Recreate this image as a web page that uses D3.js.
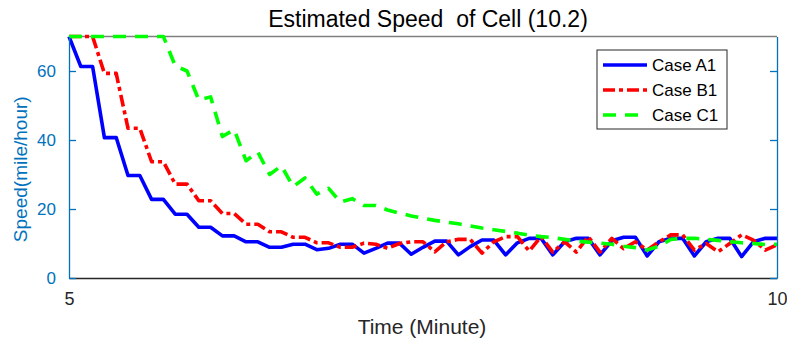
<!DOCTYPE html>
<html>
<head>
<meta charset="utf-8">
<script src="https://cdn.jsdelivr.net/npm/d3@7"></script>
<style>
  body { margin: 0; background: #fff; }
  svg { display: block; font-family: "Liberation Sans", Arial, sans-serif; }
</style>
</head>
<body>
<div id="chart"></div>
<script>
// sampled every 5 seconds between minute 5 and minute 10
const startMin = 5
const stepMin = 5 / 60
const caseA1 = [70, 61.3, 61.3, 40.7, 40.7, 29.7, 29.7, 22.8, 22.8, 18.5, 18.5, 14.7, 14.7, 12.2, 12.2, 10.5, 10.5, 8.9, 8.9, 9.8,
  9.8, 8.2, 8.6, 9.8, 9.8, 7.2, 8.6, 10.1, 10.1, 6.9, 8.9, 10.7, 10.7, 6.7, 9.1, 11, 11, 6.7, 10.2, 11.5,
  11.5, 6.7, 10.5, 11.5, 11.5, 6.7, 10.8, 11.8, 11.8, 6.4, 10.5, 11.5, 11.5, 6.4, 10.5, 11.5, 11.5, 6.2, 10.5, 11.5, 11.5]
const caseB1 = [70, 70, 70, 59.3, 59.3, 43.4, 43.4, 33.7, 33.7, 27.2, 27.2, 22.4, 22.4, 18.7, 18.7, 15.6, 15.6, 13.4, 13.4, 11.8,
  11.8, 10.2, 10.2, 8.9, 8.9, 10.1, 9.8, 8.6, 10, 10.5, 10.5, 7.6, 10.5, 11.2, 11.2, 7.2, 10.5, 12, 12, 7.8,
  12, 7.5, 10.5, 7.5, 12, 7.5, 11.5, 8.5, 10.5, 8.1, 10.5, 12.5, 12.5, 8.1, 10, 7.6, 10, 12.5, 11, 8.1, 9.6]
const caseC1 = [70, 70, 70, 70, 70, 70, 70, 70, 70, 61.5, 60, 51.6, 52.5, 41, 43, 34, 36.5, 30, 32.5, 26.5,
  29, 24.3, 26, 22, 23, 21, 21, 19.7, 18.8, 18, 17.3, 16.7, 16.2, 15.7, 15.1, 14.5, 14, 13.5, 13, 12.4,
  12, 11.7, 11.2, 10.7, 10.4, 10.1, 9.8, 9.2, 8.8, 8.1, 9.2, 11.2, 11.5, 11.5, 11.2, 10.9, 10.5, 10.2, 10, 9.7, 9.8]
const seriesNames = ['Case A1', 'Case B1', 'Case C1']
const xTicks = [5, 10]
const yTicks = [0, 20, 40, 60]

const width = 787
const height = 344
const axisBlue = '#0072BD'

const svg = d3.select('#chart')
  .append('svg')
  .attr('width', width)
  .attr('height', height)

const x = d3.scaleLinear().domain([5, 10]).range([69, 777])
const y = d3.scaleLinear().domain([0, 70]).range([278, 36.5])

const series = [
  { name: seriesNames[0], values: caseA1, color: '#0000ff', dash: null },
  { name: seriesNames[1], values: caseB1, color: '#ff0000', dash: '12,4,4,4' },
  { name: seriesNames[2], values: caseC1, color: '#00ff00', dash: '13,9' }
]

// top border
svg.append('line')
  .attr('x1', x(5)).attr('x2', x(10))
  .attr('y1', y(70)).attr('y2', y(70))
  .attr('stroke', '#7f7f7f')
  .attr('stroke-width', 1.3)

// lines
const line = d3.line()
  .x((d, i) => x(startMin + i * stepMin))
  .y((d) => y(d))

svg.append('g')
  .selectAll('path')
  .data(series)
  .enter()
  .append('path')
  .attr('d', (s) => line(s.values))
  .attr('fill', 'none')
  .attr('stroke', (s) => s.color)
  .attr('stroke-width', 3.6)
  .attr('stroke-linejoin', 'round')
  .attr('stroke-dasharray', (s) => s.dash)

// bottom axis
const xAxis = svg.append('g')
  .attr('transform', `translate(0,${y(0)})`)
  .call(d3.axisBottom(x).tickValues(xTicks).tickFormat(d3.format('d'))
    .tickSizeInner(-6).tickSizeOuter(0).tickPadding(14))
xAxis.select('.domain').attr('stroke', '#262626').attr('stroke-width', 1.3)
xAxis.selectAll('.tick line').attr('stroke', '#262626')
xAxis.selectAll('text').attr('font-size', 18).attr('fill', '#262626')

// left axis
const yAxis = svg.append('g')
  .attr('transform', `translate(${x(5)},0)`)
  .call(d3.axisLeft(y).tickValues(yTicks).tickSizeInner(-7).tickSizeOuter(0).tickPadding(13))
yAxis.select('.domain').attr('stroke', axisBlue).attr('stroke-width', 1.3)
yAxis.selectAll('.tick line').attr('stroke', axisBlue).attr('stroke-width', 1.3)
yAxis.selectAll('text').attr('font-size', 17).attr('fill', axisBlue)

// right axis, no labels
const yAxisR = svg.append('g')
  .attr('transform', `translate(${x(10)},0)`)
  .call(d3.axisLeft(y).tickValues(yTicks).tickSizeInner(7).tickSizeOuter(0).tickFormat(''))
yAxisR.select('.domain').attr('stroke', axisBlue).attr('stroke-width', 1.3)
yAxisR.selectAll('.tick line').attr('stroke', axisBlue).attr('stroke-width', 1.3)

// title and labels
svg.append('text')
  .attr('x', 428).attr('y', 27)
  .attr('text-anchor', 'middle')
  .attr('font-size', 23)
  .attr('fill', '#000')
  .attr('xml:space', 'preserve')
  .text('Estimated Speed  of Cell (10.2)')

svg.append('text')
  .attr('x', 422).attr('y', 334)
  .attr('text-anchor', 'middle')
  .attr('font-size', 21)
  .attr('fill', '#262626')
  .text('Time (Minute)')

svg.append('text')
  .attr('transform', `translate(27,${(y(0) + y(70)) / 2 + 12}) rotate(-90)`)
  .attr('text-anchor', 'middle')
  .attr('font-size', 19)
  .attr('fill', axisBlue)
  .text('Speed(mile/hour)')

// legend
const legend = svg.append('g').attr('transform', 'translate(597,50)')
legend.append('rect')
  .attr('width', 130).attr('height', 79)
  .attr('fill', '#fff')
  .attr('stroke', '#262626')
  .attr('stroke-width', 1)

const rows = legend.selectAll('g.row')
  .data(series)
  .enter()
  .append('g')
  .attr('class', 'row')
  .attr('transform', (d, i) => `translate(0,${15 + i * 25})`)

rows.append('line')
  .attr('x1', 6).attr('x2', 50)
  .attr('stroke', (s) => s.color)
  .attr('stroke-width', 3.6)
  .attr('stroke-dasharray', (s) => s.dash)

rows.append('text')
  .attr('x', 55).attr('y', 6)
  .attr('font-size', 17)
  .attr('fill', '#000')
  .text((s) => s.name)
</script>
</body>
</html>
